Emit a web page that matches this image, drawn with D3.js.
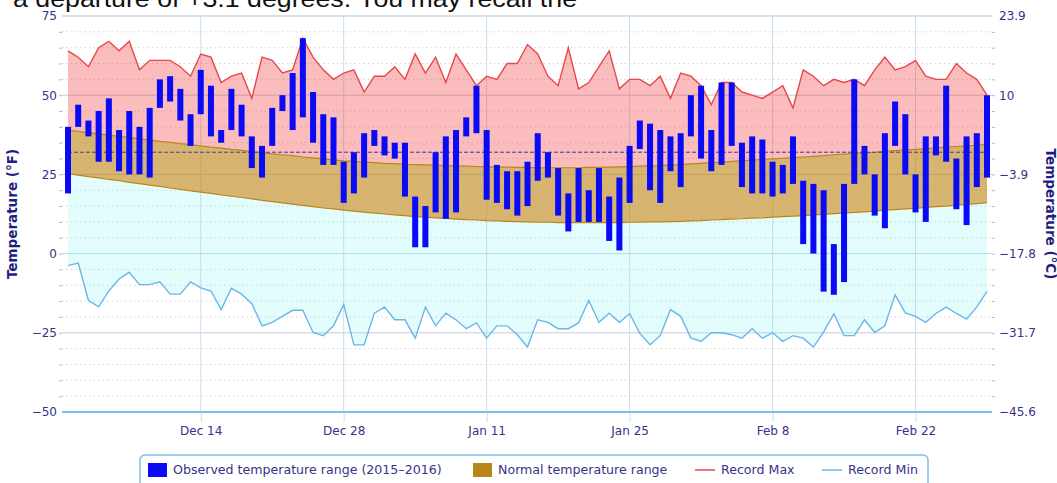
<!DOCTYPE html>
<html>
<head>
<meta charset="utf-8">
<script src="https://cdn.jsdelivr.net/npm/d3@7"></script>
<style>
  body { margin: 0; background: #fff; }
  svg { display: block; font-family: "DejaVu Sans", Verdana, sans-serif; }
</style>
</head>
<body>
<div id="chart"></div>
<script>
// ---- data (deg F) ----
const startDay = new Date(2015, 11, 1);
const endDay = new Date(2016, 2, 1);

const obsHigh = [40,47,42,45,49,39,45,40,46,55,56,52,44,58,53,
  39,52,47,37,34,46,50,57,68,51,44,43,29,32,38,
  39,37,35,35,18,15,32,37,39,43,53,39,28,26,26,
  29,38,32,27,19,27,20,27,18,24,34,42,41,39,37,
  38,50,53,39,54,54,35,37,36,29,28,37,23,22,20,
  3,22,55,34,25,38,48,44,25,37,37,53,30,37,38,
  50];
const obsLow = [19,40,37,29,29,26,25,25,24,46,48,42,34,44,37,
  35,39,37,27,24,34,45,39,43,35,28,28,16,19,24,
  34,31,30,18,2,2,13,11,13,37,38,17,16,14,12,
  15,23,24,12,7,10,10,10,4,1,16,33,20,16,26,
  21,37,30,26,28,34,21,19,19,18,19,22,3,0,-12,
  -13,-9,22,25,12,8,34,25,13,10,31,29,14,9,21,
  24];
const normalHigh = [39.0,38.6,38.2,37.8,37.4,37.0,36.6,36.2,35.8,35.4,35.1,34.7,34.4,34.0,33.6,
  33.3,32.9,32.6,32.2,31.9,31.5,31.2,30.9,30.5,30.2,29.9,29.6,29.3,29.1,28.9,
  28.7,28.5,28.4,28.2,28.1,28.0,27.9,27.8,27.7,27.6,27.5,27.4,27.3,27.3,27.2,
  27.2,27.1,27.1,27.1,27.1,27.1,27.2,27.2,27.3,27.4,27.5,27.6,27.7,27.8,28.0,
  28.1,28.3,28.5,28.7,28.9,29.1,29.3,29.5,29.7,29.9,30.1,30.3,30.5,30.7,30.9,
  31.2,31.4,31.6,31.8,32.0,32.3,32.5,32.7,32.9,33.1,33.4,33.6,33.8,34.0,34.2,
  34.5];
const normalLow = [25.2,24.8,24.3,23.9,23.4,23.0,22.5,22.1,21.6,21.2,20.7,20.3,19.8,19.4,19.0,
  18.5,18.1,17.7,17.3,16.8,16.4,16.0,15.6,15.2,14.8,14.4,14.1,13.7,13.4,13.1,
  12.8,12.5,12.2,12.0,11.7,11.5,11.3,11.1,10.9,10.7,10.6,10.4,10.3,10.2,10.1,
  10.0,9.9,9.9,9.8,9.8,9.8,9.8,9.8,9.8,9.8,9.9,9.9,10.0,10.0,10.1,
  10.2,10.3,10.4,10.6,10.7,10.9,11.0,11.2,11.3,11.5,11.7,11.8,12.0,12.2,12.4,
  12.6,12.8,13.0,13.2,13.4,13.7,13.9,14.1,14.3,14.6,14.8,15.0,15.3,15.5,15.8,
  16.1];
const recordMax = [64,62,59,65,67,64,67,58,61,61,61,59,56,63,62,
  54,56,57,49,62,61,57,58,68,62,58,55,57,58,51,
  56,56,59,55,63,57,62,54,63,58,53,56,55,60,60,
  66,63,56,53,65,52,54,59,64,52,55,55,53,56,49,
  57,56,53,47,54,54,51,50,49,51,53,46,58,56,53,
  55,54,55,53,58,62,58,59,61,56,55,55,60,57,55,
  50];
const recordMin = [-3.8,-3,-14.8,-16.8,-11.8,-8,-5.9,-9.8,-9.8,-8.9,-12.8,-12.8,-8.9,-10.8,-11.8,
  -17.7,-10.9,-12.8,-15.8,-22.8,-21.7,-19.8,-17.9,-17.9,-24.9,-25.9,-22.8,-16.1,-28.8,-28.8,
  -18.8,-16.9,-20.9,-20.9,-26.7,-16.9,-22.8,-18.8,-20.9,-23.7,-21.9,-26.7,-22.8,-22.8,-25.6,
  -29.5,-20.9,-21.7,-23.7,-23.7,-21.9,-14.8,-21.7,-18.8,-21.7,-19,-25.2,-28.8,-25.9,-17.7,
  -19.8,-26.6,-27.7,-25,-25,-25.6,-26.7,-23.7,-26.7,-25,-27.7,-25.9,-26.7,-29.5,-24.8,
  -19,-25.9,-25.9,-20.9,-24.9,-22.8,-13,-18.7,-19.8,-21.7,-18.9,-16.9,-18.9,-20.7,-16.8,
  -11.9];

const yTicks = [-50, -25, 0, 25, 50, 75];
const xTickDates = ["2015-12-14", "2015-12-28", "2016-01-11", "2016-01-25", "2016-02-08", "2016-02-22"];
const freezing = 32;

const legendItems = [
  { label: "Observed temperature range (2015\u20132016)", kind: "box", color: "#0a0af5", x: 148 },
  { label: "Normal temperature range", kind: "box", color: "#b8871c", x: 473 },
  { label: "Record Max", kind: "line", color: "#e8474b", x: 695 },
  { label: "Record Min", kind: "line", color: "#6ab8e8", x: 822 }
];

const W = 1057, H = 483;
const plotLeft = 62, plotRight = 992, plotTop = 16, plotBottom = 412;

const days = d3.timeDay.range(startDay, endDay);
const data = days.map((d, i) => ({
  date: d,
  hi: obsHigh[i], lo: obsLow[i],
  nHi: normalHigh[i], nLo: normalLow[i],
  rMax: recordMax[i], rMin: recordMin[i]
}));

const x = d3.scaleTime().domain([days[0], days[days.length - 1]]).range([68, 987]);
const y = d3.scaleLinear().domain([-50, 75]).range([plotBottom, plotTop]);
const toC = f => {
  const c = +((f - 32) * 5 / 9).toFixed(1);
  return String(c).replace("-", "\u2212");
};

const svg = d3.select("#chart").append("svg")
  .attr("width", W).attr("height", H);

// slide text cut off at the top
svg.append("text")
  .attr("x", 13).attr("y", 7)
  .attr("font-family", "'Liberation Sans', Arial, sans-serif")
  .attr("font-size", 24)
  .attr("fill", "#111")
  .attr("textLength", 564)
  .attr("lengthAdjust", "spacingAndGlyphs")
  .text("a departure of +3.1 degrees. You may recall the");

// minor grid
const minor = d3.range(-45, 75, 5).filter(v => v % 25 !== 0);
svg.append("g").selectAll("line").data(minor).join("line")
  .attr("x1", plotLeft).attr("x2", plotRight)
  .attr("y1", d => y(d)).attr("y2", d => y(d))
  .attr("stroke", "#d4d4dc").attr("stroke-dasharray", "1.5,3");

// major grid
svg.append("g").selectAll("line").data(yTicks.filter(v => v !== -50)).join("line")
  .attr("x1", plotLeft).attr("x2", plotRight)
  .attr("y1", d => y(d)).attr("y2", d => y(d))
  .attr("stroke", d => d === 0 ? "#b3dcf0" : "#c9cbdb");

// vertical grid
const tickDates = xTickDates.map(s => d3.timeParse("%Y-%m-%d")(s));
svg.append("g").selectAll("line").data(tickDates).join("line")
  .attr("x1", d => x(d)).attr("x2", d => x(d))
  .attr("y1", plotTop).attr("y2", plotBottom)
  .attr("stroke", "#c6dff0");

// record max fill (pink) down to normal high
svg.append("path").datum(data)
  .attr("d", d3.area().x(d => x(d.date)).y0(d => y(d.nHi)).y1(d => y(d.rMax)))
  .attr("fill", "#f03c3c").attr("fill-opacity", 0.34);

// record min fill (cyan) up to normal low
svg.append("path").datum(data)
  .attr("d", d3.area().x(d => x(d.date)).y0(d => y(d.rMin)).y1(d => y(d.nLo)))
  .attr("fill", "#7ff0f0").attr("fill-opacity", 0.22);

// normal range
svg.append("path").datum(data)
  .attr("d", d3.area().x(d => x(d.date)).y0(d => y(d.nLo)).y1(d => y(d.nHi)))
  .attr("fill", "#c08a20").attr("fill-opacity", 0.64);
["nHi", "nLo"].forEach(k => {
  svg.append("path").datum(data)
    .attr("d", d3.line().x(d => x(d.date)).y(d => y(d[k])))
    .attr("fill", "none").attr("stroke", "#b8871c").attr("stroke-width", 1.2);
});

// record lines
svg.append("path").datum(data)
  .attr("d", d3.line().x(d => x(d.date)).y(d => y(d.rMax)))
  .attr("fill", "none").attr("stroke", "#e8474b").attr("stroke-width", 1.4);
svg.append("path").datum(data)
  .attr("d", d3.line().x(d => x(d.date)).y(d => y(d.rMin)))
  .attr("fill", "none").attr("stroke", "#6ab8e8").attr("stroke-width", 1.4);

// freezing line
svg.append("line")
  .attr("x1", x(days[0])).attr("x2", x(days[days.length - 1]))
  .attr("y1", y(freezing)).attr("y2", y(freezing))
  .attr("stroke", "#4a3a90").attr("stroke-width", 1).attr("stroke-dasharray", "4,2");

// observed bars
svg.append("g").selectAll("rect").data(data).join("rect")
  .attr("x", d => x(d.date) - 3)
  .attr("width", 6)
  .attr("y", d => y(d.hi))
  .attr("height", d => y(d.lo) - y(d.hi))
  .attr("fill", "#0a0af5");

// axes
const labelColor = "#34348a";
const styleAxis = g => {
  g.select(".domain").remove();
  g.selectAll("text").attr("fill", labelColor)
    .attr("font-size", 12).attr("font-family", "'DejaVu Sans', Verdana, sans-serif");
};

svg.append("g")
  .attr("transform", `translate(${plotLeft},0)`)
  .call(d3.axisLeft(y).tickValues(yTicks).tickSize(0).tickPadding(5))
  .call(styleAxis);

svg.append("g")
  .attr("transform", `translate(${plotRight},0)`)
  .call(d3.axisRight(y).tickValues(yTicks).tickSize(0).tickPadding(7).tickFormat(toC))
  .call(styleAxis);

// minor tick marks on both sides
[[plotLeft, d3.axisLeft], [plotRight, d3.axisRight]].forEach(([px, ax]) => {
  svg.append("g")
    .attr("transform", `translate(${px},0)`)
    .call(ax(y).tickValues(d3.range(-45, 75, 5)).tickSize(3).tickFormat(""))
    .call(g => g.select(".domain").remove())
    .call(g => g.selectAll("line").attr("stroke", "#b8b8c4"));
});

const xAxis = svg.append("g")
  .attr("transform", `translate(0,${plotBottom})`)
  .call(d3.axisBottom(x).tickValues(tickDates).tickSize(10).tickPadding(4)
    .tickFormat(d3.timeFormat("%b %-d")))
  .call(styleAxis);
xAxis.selectAll(".tick line").attr("stroke", "#c6dff0");

svg.append("line")
  .attr("x1", plotLeft).attr("x2", plotRight)
  .attr("y1", plotBottom).attr("y2", plotBottom)
  .attr("stroke", "#7cc0e8").attr("stroke-width", 2);
svg.append("line")
  .attr("x1", plotLeft).attr("x2", plotRight)
  .attr("y1", plotTop).attr("y2", plotTop)
  .attr("stroke", "#cbdbe8");

// axis titles
svg.append("text")
  .attr("transform", `translate(17,${(plotTop + plotBottom) / 2}) rotate(-90)`)
  .attr("text-anchor", "middle")
  .attr("font-size", 13.5).attr("font-weight", "bold").attr("fill", "#1e1e82")
  .text("Temperature (\u00b0F)");
svg.append("text")
  .attr("transform", `translate(1046,${(plotTop + plotBottom) / 2}) rotate(90)`)
  .attr("text-anchor", "middle")
  .attr("font-size", 13.5).attr("font-weight", "bold").attr("fill", "#1e1e82")
  .text("Temperature (\u00b0C)");

// legend
svg.append("rect")
  .attr("x", 140).attr("y", 455).attr("width", 788).attr("height", 44)
  .attr("rx", 5).attr("fill", "#fff")
  .attr("stroke", "#7cc0e8").attr("stroke-width", 1.5);

const legend = svg.append("g").selectAll("g").data(legendItems).join("g")
  .attr("transform", d => `translate(${d.x},470)`);
legend.filter(d => d.kind === "box").append("rect")
  .attr("x", 0).attr("y", -7).attr("width", 19).attr("height", 14)
  .attr("fill", d => d.color);
legend.filter(d => d.kind === "line").append("line")
  .attr("x1", 0).attr("x2", 20).attr("y1", 0).attr("y2", 0)
  .attr("stroke", d => d.color).attr("stroke-width", 1.5);
legend.append("text")
  .attr("x", d => d.kind === "box" ? 25 : 26)
  .attr("y", 0).attr("dy", "0.35em")
  .attr("font-size", 12.6).attr("fill", labelColor)
  .text(d => d.label);
</script>
</body>
</html>
